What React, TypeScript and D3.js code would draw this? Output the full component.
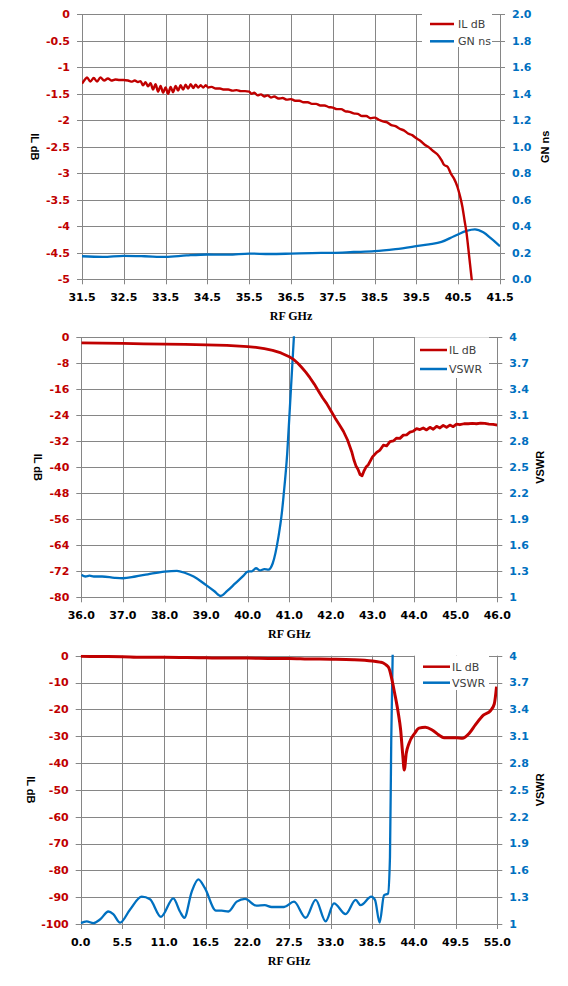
import React from 'react';
import * as d3 from 'd3';

const RED = '#C00000';
const BLUE = '#0070C0';
const GRID = '#868686';

// ---- chart 1 : IL dB / group delay, 31.5 - 41.5 GHz
const c1XTicks = [31.5, 32.5, 33.5, 34.5, 35.5, 36.5, 37.5, 38.5, 39.5, 40.5, 41.5];
const c1LeftTicks = [0, -0.5, -1, -1.5, -2, -2.5, -3, -3.5, -4, -4.5, -5];
const c1RightTicks = [0, 0.2, 0.4, 0.6, 0.8, 1.0, 1.2, 1.4, 1.6, 1.8, 2.0];
const c1IL: [number, number][] = [
  [31.5, -1.31], [31.58, -1.22], [31.62, -1.19], [31.7, -1.27], [31.78, -1.2], [31.86, -1.27],
  [31.94, -1.19], [32.03, -1.25], [32.12, -1.21], [32.2, -1.25], [32.3, -1.23], [32.4, -1.24],
  [32.5, -1.24], [32.6, -1.25], [32.7, -1.27], [32.76, -1.25], [32.84, -1.28], [32.9, -1.26],
  [32.96, -1.34], [33.02, -1.28], [33.08, -1.36], [33.14, -1.3], [33.2, -1.42], [33.26, -1.32],
  [33.32, -1.46], [33.38, -1.35], [33.44, -1.48], [33.5, -1.38], [33.56, -1.5], [33.62, -1.37],
  [33.68, -1.47], [33.74, -1.35], [33.8, -1.44], [33.86, -1.34], [33.92, -1.42], [33.98, -1.33],
  [34.04, -1.4], [34.1, -1.32], [34.16, -1.39], [34.22, -1.33], [34.28, -1.38], [34.34, -1.34],
  [34.4, -1.38], [34.46, -1.34], [34.52, -1.38], [34.6, -1.37], [34.7, -1.4], [34.8, -1.4],
  [34.9, -1.42], [35.0, -1.42], [35.1, -1.44], [35.2, -1.43], [35.3, -1.45], [35.4, -1.45],
  [35.5, -1.46], [35.56, -1.5], [35.62, -1.48], [35.7, -1.53], [35.78, -1.51], [35.86, -1.55],
  [35.94, -1.53], [36.02, -1.57], [36.1, -1.55], [36.2, -1.59], [36.3, -1.58], [36.4, -1.61],
  [36.5, -1.6], [36.6, -1.63], [36.7, -1.63], [36.8, -1.66], [36.9, -1.66], [37.0, -1.69],
  [37.1, -1.69], [37.2, -1.72], [37.3, -1.72], [37.4, -1.75], [37.5, -1.76], [37.6, -1.79],
  [37.7, -1.79], [37.8, -1.83], [37.9, -1.84], [38.0, -1.87], [38.1, -1.88], [38.2, -1.92],
  [38.3, -1.92], [38.4, -1.96], [38.5, -1.95], [38.6, -1.99], [38.7, -2.02], [38.8, -2.04],
  [38.9, -2.09], [39.0, -2.11], [39.1, -2.16], [39.2, -2.19], [39.3, -2.25], [39.4, -2.28],
  [39.5, -2.34], [39.6, -2.39], [39.7, -2.46], [39.8, -2.51], [39.9, -2.58], [40.0, -2.64],
  [40.1, -2.75], [40.16, -2.84], [40.25, -2.88], [40.32, -3.0], [40.4, -3.1], [40.48, -3.25],
  [40.54, -3.42], [40.6, -3.63], [40.65, -3.88], [40.7, -4.13], [40.76, -4.55], [40.83, -5.05],
];
const c1GN: [number, number][] = [
  [31.5, 0.174], [32.0, 0.169], [32.5, 0.177], [33.0, 0.174], [33.5, 0.169], [34.0, 0.18],
  [34.5, 0.187], [35.0, 0.186], [35.5, 0.194], [36.0, 0.191], [36.5, 0.194], [37.0, 0.198],
  [37.5, 0.2], [38.0, 0.206], [38.5, 0.212], [39.0, 0.228], [39.5, 0.25], [39.8, 0.264],
  [40.1, 0.282], [40.4, 0.325], [40.7, 0.366], [40.9, 0.377], [41.1, 0.355], [41.3, 0.305],
  [41.5, 0.25],
];

// ---- chart 2 : IL dB / VSWR, 36 - 46 GHz
const c2XTicks = [36, 37, 38, 39, 40, 41, 42, 43, 44, 45, 46];
const c2LeftTicks = [0, -8, -16, -24, -32, -40, -48, -56, -64, -72, -80];
const c2RightTicks = [1, 1.3, 1.6, 1.9, 2.2, 2.5, 2.8, 3.1, 3.4, 3.7, 4];
const c2IL: [number, number][] = [
  [36.0, -1.7], [36.5, -1.8], [37.0, -1.9], [37.5, -2.0], [38.0, -2.1], [38.5, -2.2],
  [39.0, -2.35], [39.5, -2.5], [40.0, -2.85], [40.2, -3.1], [40.4, -3.5], [40.6, -4.0],
  [40.8, -4.8], [41.0, -6.0], [41.1, -6.8], [41.2, -7.9], [41.3, -9.3], [41.4, -10.8],
  [41.5, -12.5], [41.6, -14.4], [41.7, -16.5], [41.8, -18.6], [41.9, -20.4], [42.0, -22.6],
  [42.1, -24.8], [42.2, -26.8], [42.3, -28.9], [42.4, -31.6], [42.5, -35.2], [42.55, -37.6],
  [42.6, -39.5], [42.65, -40.6], [42.7, -42.2], [42.75, -42.6], [42.8, -41.0], [42.85, -39.8],
  [42.9, -39.2], [43.0, -36.8], [43.1, -35.4], [43.18, -34.7], [43.26, -33.2], [43.34, -33.4],
  [43.42, -32.1], [43.5, -31.9], [43.58, -31.0], [43.66, -31.1], [43.74, -30.1], [43.82, -30.0],
  [43.9, -29.2], [43.98, -28.9], [44.06, -28.1], [44.14, -28.4], [44.22, -27.9], [44.3, -28.5],
  [44.38, -27.7], [44.46, -28.3], [44.54, -27.4], [44.62, -27.9], [44.7, -27.1], [44.78, -27.7],
  [44.86, -27.0], [44.94, -27.5], [45.02, -26.7], [45.1, -26.9], [45.2, -26.6], [45.3, -26.6],
  [45.4, -26.5], [45.5, -26.6], [45.6, -26.4], [45.7, -26.5], [45.8, -26.7], [45.9, -26.8],
  [46.0, -27.0],
];
const c2VSWR: [number, number][] = [
  [36.0, 1.26], [36.1, 1.24], [36.2, 1.25], [36.3, 1.24], [36.5, 1.24], [36.8, 1.225],
  [37.0, 1.22], [37.3, 1.24], [37.6, 1.265], [38.0, 1.296], [38.3, 1.305], [38.5, 1.28],
  [38.7, 1.24], [39.0, 1.14], [39.2, 1.07], [39.35, 1.015], [39.5, 1.07], [39.7, 1.16],
  [39.9, 1.25], [40.0, 1.296], [40.1, 1.3], [40.2, 1.335], [40.3, 1.31], [40.4, 1.325],
  [40.5, 1.32], [40.6, 1.39], [40.74, 1.7], [40.82, 1.97], [40.86, 2.16], [40.95, 2.66],
  [41.02, 3.24], [41.11, 4.0], [41.2, 4.8],
];

// ---- chart 3 : IL dB / VSWR, 0 - 55 GHz
const c3XTicks = [0, 5.5, 11, 16.5, 22, 27.5, 33, 38.5, 44, 49.5, 55];
const c3LeftTicks = [0, -10, -20, -30, -40, -50, -60, -70, -80, -90, -100];
const c3RightTicks = [1, 1.3, 1.6, 1.9, 2.2, 2.5, 2.8, 3.1, 3.4, 3.7, 4];
const c3IL: [number, number][] = [
  [0, -0.2], [2, -0.3], [5.5, -0.4], [8, -0.6], [11, -0.6], [14, -0.7], [16.5, -0.8],
  [19, -0.9], [22, -0.9], [25, -1.0], [27.5, -1.0], [30, -1.2], [33, -1.3], [36, -1.5],
  [38.5, -2.0], [39.5, -2.4], [40.0, -2.8], [40.4, -3.6], [40.7, -4.7], [41.0, -7.8],
  [41.45, -14], [41.9, -20.9], [42.24, -27.7], [42.5, -36.4], [42.72, -42.6], [42.98, -36.4],
  [43.34, -32.7], [44.1, -28.9], [44.66, -27], [45.5, -26.7], [46.4, -27.7], [47.3, -29.6],
  [47.96, -30.6], [49.6, -30.6], [50.4, -30.8], [51.3, -28.9], [52.1, -25.8], [53.2, -22.1],
  [54.1, -20.5], [54.6, -18], [54.9, -11.5],
];
const c3VSWR: [number, number][] = [
  [0, 1.01], [0.79, 1.03], [1.67, 1.01], [2.55, 1.05], [3.65, 1.14], [4.3, 1.11], [5.19, 1.015],
  [6.5, 1.16], [8.05, 1.305], [9.15, 1.276], [10.6, 1.08], [12.23, 1.287], [13.1, 1.14],
  [13.68, 1.07], [14.65, 1.36], [15.53, 1.5], [16.4, 1.4], [17.86, 1.15], [18.6, 1.15],
  [19.5, 1.14], [20.6, 1.25], [21.7, 1.28], [23.2, 1.205], [24.3, 1.21], [25.2, 1.19],
  [26.3, 1.19], [26.84, 1.19], [28.16, 1.25], [29.7, 1.07], [31.02, 1.27], [32.34, 1.03],
  [33.44, 1.23], [34.98, 1.11], [36.3, 1.27], [36.96, 1.21], [38.36, 1.305], [38.85, 1.27],
  [39.47, 1.015], [40.04, 1.32], [40.57, 1.34], [40.83, 1.75], [41.0, 3.06], [41.19, 4.03],
];

const panels = [
  {
    id: 'c1', left: 82, right: 500, top: 14.3, bottom: 279.3,
    xTicks: c1XTicks, lTicks: c1LeftTicks, rTicks: c1RightTicks,
    xFmt: (v: number) => v.toFixed(1), lFmt: (v: number) => String(v), rFmt: (v: number) => v.toFixed(1),
    red: c1IL, blue: c1GN, redW: 2.4, redCurve: d3.curveMonotoneX,
    names: ['IL dB', 'GN ns'], rightTitle: 'GN ns', leftTitleX: 35, rightTitleX: 545,
    legend: { x0: 422, x1: 492, y0: 12, y1: 47, lx0: 430, lx1: 454, tx: 458, ty: [24, 41.3] },
  },
  {
    id: 'c2', left: 81.3, right: 497.3, top: 337.3, bottom: 597.3,
    xTicks: c2XTicks, lTicks: c2LeftTicks, rTicks: c2RightTicks,
    xFmt: (v: number) => v.toFixed(1), lFmt: (v: number) => String(v), rFmt: (v: number) => String(+v.toFixed(1)),
    red: c2IL, blue: c2VSWR, redW: 2.8, redCurve: d3.curveLinear,
    names: ['IL dB', 'VSWR'], rightTitle: 'VSWR', leftTitleX: 38, rightTitleX: 540,
    legend: { x0: 415, x1: 489, y0: 337.3, y1: 378, lx0: 420, lx1: 447, tx: 449, ty: [350, 369] },
  },
  {
    id: 'c3', left: 80.7, right: 497.3, top: 655.7, bottom: 924,
    xTicks: c3XTicks, lTicks: c3LeftTicks, rTicks: c3RightTicks,
    xFmt: (v: number) => v.toFixed(1), lFmt: (v: number) => String(v), rFmt: (v: number) => String(+v.toFixed(1)),
    red: c3IL, blue: c3VSWR, redW: 3, redCurve: d3.curveMonotoneX,
    names: ['IL dB', 'VSWR'], rightTitle: 'VSWR', leftTitleX: 31, rightTitleX: 540,
    legend: { x0: 415, x1: 489, y0: 655.7, y1: 690, lx0: 423, lx1: 450, tx: 452, ty: [666.7, 682.7] },
  },
];

const tickFont = { fontFamily: 'DejaVu Sans', fontWeight: 'bold' as const, fontSize: 11 };

function Panel({ p }: { p: (typeof panels)[number] }) {
  const xs = p.xTicks;
  const x = d3.scaleLinear().domain([xs[0], xs[xs.length - 1]]).range([p.left, p.right]);
  const yL = d3.scaleLinear()
    .domain([d3.min(p.lTicks)!, d3.max(p.lTicks)!])
    .range([p.bottom, p.top]);
  const yR = d3.scaleLinear()
    .domain([d3.min(p.rTicks)!, d3.max(p.rTicks)!])
    .range([p.bottom, p.top]);

  const redPath = d3.line<[number, number]>()
    .x((d) => x(d[0])).y((d) => yL(d[1])).curve(p.redCurve)(p.red) || '';
  const bluePath = d3.line<[number, number]>()
    .x((d) => x(d[0])).y((d) => yR(d[1])).curve(d3.curveMonotoneX)(p.blue) || '';

  const midY = (p.top + p.bottom) / 2;
  const lg = p.legend;

  return (
    <g>
      <defs>
        <clipPath id={`clip-${p.id}`}>
          <rect x={p.left} y={p.top - 1} width={p.right - p.left} height={p.bottom - p.top + 2} />
        </clipPath>
      </defs>
      {/* horizontal grid with outer tick marks */}
      {p.lTicks.map((t) => (
        <line key={`h${t}`} x1={p.left - 5} x2={p.right + 5} y1={Math.round(yL(t)) + 0.5}
          y2={Math.round(yL(t)) + 0.5} stroke={GRID} strokeWidth={1} />
      ))}
      {xs.map((t) => (
        <line key={`v${t}`} x1={Math.round(x(t)) + 0.5} x2={Math.round(x(t)) + 0.5} y1={p.top}
          y2={p.bottom + 5} stroke={GRID} strokeWidth={1} />
      ))}
      {/* tick labels */}
      {p.lTicks.map((t) => (
        <text key={`lt${t}`} x={p.left - 12} y={yL(t)} dy="0.36em" textAnchor="end" fill={RED} {...tickFont}>
          {p.lFmt(t)}
        </text>
      ))}
      {p.rTicks.map((t) => (
        <text key={`rt${t}`} x={p.right + 12} y={yR(t)} dy="0.36em" textAnchor="start" fill={BLUE} {...tickFont}>
          {p.rFmt(t)}
        </text>
      ))}
      {xs.map((t) => (
        <text key={`xt${t}`} x={x(t)} y={p.bottom + 21.5} textAnchor="middle" fill="#000" {...tickFont}>
          {p.xFmt(t)}
        </text>
      ))}
      {/* series */}
      <g clipPath={`url(#clip-${p.id})`}>
        <path d={bluePath} fill="none" stroke={BLUE} strokeWidth={2.3} strokeLinejoin="round" />
        <path d={redPath} fill="none" stroke={RED} strokeWidth={p.redW} strokeLinejoin="round" />
      </g>
      {/* legend */}
      <rect x={lg.x0} y={lg.y0} width={lg.x1 - lg.x0} height={lg.y1 - lg.y0} fill="#fff" />
      {[RED, BLUE].map((c, i) => (
        <g key={c}>
          <line x1={lg.lx0} x2={lg.lx1} y1={lg.ty[i]} y2={lg.ty[i]} stroke={c} strokeWidth={2.5} />
          <text x={lg.tx} y={lg.ty[i]} dy="0.36em" fill="#404040" fontFamily="DejaVu Sans" fontSize={11}>
            {p.names[i]}
          </text>
        </g>
      ))}
      {/* axis titles */}
      <text x={(p.left + p.right) / 2} y={p.bottom + 41} textAnchor="middle" fontFamily="Liberation Serif"
        fontWeight="bold" fontSize={12}>
        RF GHz
      </text>
      <text transform={`translate(${p.leftTitleX},${midY}) rotate(90)`} textAnchor="middle" dy="0.36em"
        fontFamily="Liberation Sans" fontWeight="bold" fontSize={11}>
        IL dB
      </text>
      <text transform={`translate(${p.rightTitleX},${midY}) rotate(-90)`} textAnchor="middle" dy="0.36em"
        fontFamily="Liberation Sans" fontWeight="bold" fontSize={11}>
        {p.rightTitle}
      </text>
    </g>
  );
}

export default function App() {
  return (
    <svg width={568} height={986} style={{ position: 'absolute', left: 0, top: 0, background: '#fff' }}>
      <rect width={568} height={986} fill="#fff" />
      {panels.map((p) => (
        <Panel key={p.id} p={p} />
      ))}
    </svg>
  );
}
